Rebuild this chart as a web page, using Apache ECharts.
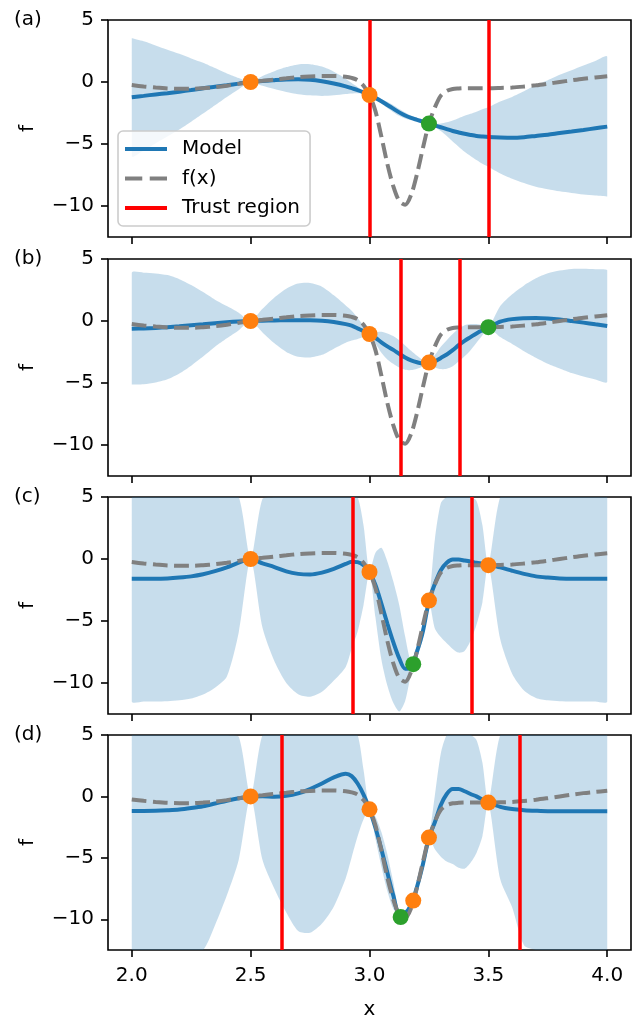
<!DOCTYPE html>
<html>
<head>
<meta charset="utf-8">
<script src="https://cdn.jsdelivr.net/npm/echarts@6.0.0/dist/echarts.min.js"></script>
<style>
  html, body { margin: 0; padding: 0; background: #ffffff; }
  #chart { width: 637px; height: 1021px; }
</style>
</head>
<body>
<div id="chart"></div>
<script>
// Sample locations shared by every curve
const XS = [2.0, 2.05, 2.1, 2.15, 2.2, 2.25, 2.3, 2.35, 2.4, 2.45, 2.5, 2.55, 2.6, 2.65, 2.7, 2.75, 2.8, 2.85, 2.9,
            2.925, 2.95, 2.975, 3.0, 3.025, 3.05, 3.075, 3.1, 3.125, 3.15, 3.175, 3.2, 3.225, 3.25, 3.275, 3.3, 3.325,
            3.35, 3.375, 3.4, 3.425, 3.45, 3.475, 3.5,
            3.55, 3.6, 3.65, 3.7, 3.75, 3.8, 3.85, 3.9, 3.95, 4.0];

// Objective function f(x)
const F_TRUE = [-0.25, -0.36, -0.45, -0.52, -0.55, -0.55, -0.50, -0.42, -0.30, -0.15, 0.00, 0.10, 0.20, 0.30, 0.40, 0.45, 0.48, 0.48, 0.42,
                0.33, 0.15, -0.30, -1.05, -2.35, -4.40, -6.60, -8.40, -9.60, -9.90, -9.10, -7.40, -5.30, -3.35, -2.05, -1.10, -0.72,
                -0.56, -0.52, -0.50, -0.50, -0.50, -0.50, -0.50,
                -0.48, -0.45, -0.37, -0.27, -0.14, 0.00, 0.14, 0.27, 0.37, 0.46];

// Model mean per step
const MEAN_A = [-1.23, -1.12, -1.00, -0.90, -0.78, -0.65, -0.50, -0.38, -0.26, -0.13, 0.00, 0.09, 0.15, 0.20, 0.22, 0.18, 0.06, -0.12, -0.35,
                -0.50, -0.65, -0.83, -1.05, -1.28, -1.55, -1.85, -2.15, -2.45, -2.70, -2.90, -3.05, -3.20, -3.35, -3.50, -3.65, -3.80,
                -3.95, -4.07, -4.18, -4.27, -4.35, -4.40, -4.44,
                -4.48, -4.50, -4.45, -4.35, -4.25, -4.12, -4.00, -3.87, -3.73, -3.60];
const MEAN_B = [-0.62, -0.60, -0.56, -0.50, -0.43, -0.35, -0.27, -0.18, -0.10, -0.04, 0.00, 0.03, 0.05, 0.06, 0.07, 0.06, 0.02, -0.08, -0.25,
                -0.38, -0.60, -0.82, -1.05, -1.35, -1.72, -2.05, -2.33, -2.65, -2.95, -3.18, -3.33, -3.42, -3.38, -3.25, -2.98, -2.70,
                -2.35, -1.95, -1.60, -1.30, -1.00, -0.75, -0.54,
                -0.05, 0.15, 0.22, 0.24, 0.20, 0.12, 0.00, -0.13, -0.27, -0.40];
const MEAN_C = [-1.60, -1.60, -1.60, -1.57, -1.50, -1.40, -1.23, -0.98, -0.67, -0.30, 0.00, -0.35, -0.65, -1.00, -1.20, -1.25, -1.10, -0.80, -0.40,
                -0.22, -0.25, -0.50, -1.05, -2.10, -3.60, -5.20, -6.70, -8.00, -8.85, -8.75, -7.45, -5.80, -3.40, -2.00, -0.90, -0.30,
                -0.05, -0.05, -0.12, -0.20, -0.30, -0.38, -0.47,
                -0.68, -0.95, -1.20, -1.40, -1.50, -1.57, -1.60, -1.60, -1.60, -1.60];
const MEAN_D = [-1.18, -1.18, -1.17, -1.13, -1.07, -0.95, -0.80, -0.58, -0.35, -0.15, 0.00, 0.02, -0.02, 0.05, 0.25, 0.60, 1.05, 1.55, 1.85,
                1.65, 1.05, 0.15, -1.05, -2.55, -4.30, -6.20, -8.05, -9.50, -9.45, -8.80, -7.35, -5.50, -3.35, -2.10, -0.70, 0.20,
                0.60, 0.60, 0.42, 0.20, 0.00, -0.25, -0.48,
                -0.85, -1.03, -1.12, -1.17, -1.20, -1.20, -1.20, -1.20, -1.20, -1.20];

// Half-width of the shaded confidence band per step
const SPREAD_A = [4.75, 4.40, 3.95, 3.50, 3.05, 2.55, 2.05, 1.50, 0.95, 0.45, 0.00, 0.40, 0.72, 1.00, 1.20, 1.25, 1.18, 0.95, 0.62,
                  0.42, 0.25, 0.10, 0.00, 0.10, 0.18, 0.25, 0.28, 0.28, 0.25, 0.18, 0.12, 0.05, 0.00, 0.12, 0.30, 0.55,
                  0.85, 1.15, 1.45, 1.70, 1.95, 2.20, 2.40,
                  2.90, 3.30, 3.70, 4.10, 4.40, 4.70, 4.95, 5.20, 5.42, 5.63];
const SPREAD_B = [4.50, 4.50, 4.40, 4.20, 3.80, 3.25, 2.60, 1.90, 1.30, 0.70, 0.00, 0.95, 1.85, 2.55, 2.95, 3.00, 2.75, 2.15, 1.50,
                  1.20, 0.85, 0.45, 0.00, 0.45, 0.85, 1.05, 1.12, 1.10, 0.98, 0.78, 0.52, 0.25, 0.00, 0.50, 0.90, 1.15,
                  1.30, 1.32, 1.25, 1.05, 0.75, 0.40, 0.00,
                  1.25, 2.00, 2.65, 3.20, 3.65, 3.95, 4.20, 4.35, 4.45, 4.50];
const SPREAD_C = [9.90, 9.90, 9.90, 9.90, 9.90, 9.85, 9.70, 9.40, 8.80, 5.60, 0.00, 5.20, 7.60, 9.00, 9.70, 9.85, 9.60, 9.00, 8.30,
                  7.00, 5.60, 3.20, 0.00, 2.60, 4.50, 5.00, 4.90, 4.30, 2.60, 0.50, 0.50, 0.60, 0.00, 3.60, 5.40, 6.50,
                  7.20, 7.50, 7.30, 6.40, 5.00, 3.10, 0.00,
                  5.80, 8.30, 9.40, 9.80, 9.90, 9.90, 9.90, 9.90, 9.90, 9.90];
const SPREAD_D = [12.5, 12.5, 12.5, 12.4, 12.3, 12.1, 11.7, 9.90, 7.70, 5.00, 0.00, 5.20, 7.50, 9.50, 11.2, 11.7, 11.4, 10.5, 8.50,
                  6.60, 4.30, 2.00, 0.00, 0.90, 1.40, 1.50, 1.10, 0.20, 0.15, 0.10, 0.30, 0.30, 0.00, 2.20, 4.20, 5.50,
                  6.10, 6.40, 6.30, 5.60, 4.60, 3.00, 0.00,
                  5.90, 8.00, 11.0, 12.3, 12.5, 12.5, 12.5, 12.5, 12.5, 12.5];

// Trust region bounds per step
const TR_A = [3.0, 3.5];
const TR_B = [3.125, 3.375];
const TR_C = [2.934, 3.434];
const TR_D = [2.631, 3.631];

// Evaluated points and the newly proposed point per step
const OBS_X_A = [2.5, 3.0];
const OBS_Y_A = [0.0, -1.05];
const NEXT_A = [3.25, -3.35];
const OBS_X_B = [2.5, 3.0, 3.25];
const OBS_Y_B = [0.0, -1.05, -3.35];
const NEXT_B = [3.5, -0.5];
const OBS_X_C = [2.5, 3.0, 3.25, 3.5];
const OBS_Y_C = [0.0, -1.05, -3.35, -0.5];
const NEXT_C = [3.184, -8.48];
const OBS_X_D = [2.5, 3.0, 3.184, 3.25, 3.5];
const OBS_Y_D = [0.0, -1.05, -8.48, -3.35, -0.5];
const NEXT_D = [3.131, -9.82];

// Axis ticks
const X_TICKS = [2.0, 2.5, 3.0, 3.5, 4.0];
const Y_TICKS = [-10, -5, 0, 5];
const PANEL_LABELS = ['(a)', '(b)', '(c)', '(d)'];

const X_MIN = 1.9, X_MAX = 4.1, Y_MIN = -12.5, Y_MAX = 5;

const panels = [
  { mean: MEAN_A, spread: SPREAD_A, tr: TR_A, ox: OBS_X_A, oy: OBS_Y_A, next: NEXT_A },
  { mean: MEAN_B, spread: SPREAD_B, tr: TR_B, ox: OBS_X_B, oy: OBS_Y_B, next: NEXT_B },
  { mean: MEAN_C, spread: SPREAD_C, tr: TR_C, ox: OBS_X_C, oy: OBS_Y_C, next: NEXT_C },
  { mean: MEAN_D, spread: SPREAD_D, tr: TR_D, ox: OBS_X_D, oy: OBS_Y_D, next: NEXT_D }
];

const FONT = 'DejaVu Sans';
const TOPS = [20, 259, 497, 735];
const PLOT_H = 217;
const BLUE = '#1f77b4', ORANGE = '#ff7f0e', GREEN = '#2ca02c', GREY = '#808080', RED = '#ff0000';

const minusFmt = v => (v < 0 ? '\u2212' + Math.abs(v) : String(v));

const grids = [], xAxes = [], yAxes = [], series = [], graphics = [];

panels.forEach((p, i) => {
  const last = i === panels.length - 1;
  grids.push({
    left: 108, right: 6, top: TOPS[i], height: PLOT_H,
    show: true, borderColor: '#000', borderWidth: 1.6, backgroundColor: 'transparent'
  });
  xAxes.push({
    type: 'value', gridIndex: i, min: X_MIN, max: X_MAX,
    axisLine: { show: false, onZero: false }, splitLine: { show: false },
    axisTick: { show: true, inside: false, length: 7, lineStyle: { color: '#000', width: 1.6 }, customValues: X_TICKS },
    axisLabel: {
      show: last, customValues: X_TICKS, formatter: v => v.toFixed(1),
      fontFamily: FONT, fontSize: 20, color: '#000', margin: 16
    },
    name: last ? 'x' : '', nameLocation: 'middle', nameGap: 50,
    nameTextStyle: { fontFamily: FONT, fontSize: 20, color: '#000' }
  });
  yAxes.push({
    type: 'value', gridIndex: i, min: Y_MIN, max: Y_MAX,
    axisLine: { show: false, onZero: false }, splitLine: { show: false },
    axisTick: { show: true, inside: false, length: 7, lineStyle: { color: '#000', width: 1.6 }, customValues: Y_TICKS },
    axisLabel: { customValues: Y_TICKS, formatter: minusFmt, fontFamily: FONT, fontSize: 20, color: '#000', margin: 14 },
    name: 'f', nameLocation: 'middle', nameGap: 70, nameRotate: 90,
    nameTextStyle: { fontFamily: FONT, fontSize: 20, color: '#000' }
  });

  // Shaded confidence band: mean +/- spread, clamped to the visible range
  series.push({
    type: 'custom', name: 'band', xAxisIndex: i, yAxisIndex: i, z: 1, silent: true,
    data: [[XS[0], p.mean[0]]],
    renderItem: (params, api) => {
      const upper = [], lower = [];
      for (let k = 0; k < XS.length; k++) {
        const hi = Math.min(Y_MAX, Math.max(Y_MIN, p.mean[k] + p.spread[k]));
        const lo = Math.max(Y_MIN, Math.min(Y_MAX, p.mean[k] - p.spread[k]));
        upper.push(api.coord([XS[k], hi]));
        lower.push(api.coord([XS[k], lo]));
      }
      const pts = upper.concat(lower.reverse());
      // keep the smoothed outline inside the band's own bounding box
      const xsPx = pts.map(q => q[0]), ysPx = pts.map(q => q[1]);
      const box = [[Math.min(...xsPx), Math.min(...ysPx)], [Math.max(...xsPx), Math.max(...ysPx)]];
      return {
        type: 'polygon',
        shape: { points: pts, smooth: 0.25, smoothConstraint: box },
        style: { fill: 'rgba(31,119,180,0.25)', stroke: null }
      };
    }
  });

  // Model mean
  series.push({
    type: 'line', name: 'Model', xAxisIndex: i, yAxisIndex: i, z: 2,
    data: XS.map((x, k) => [x, p.mean[k]]),
    symbol: 'none', showSymbol: false, smooth: 0.3,
    color: BLUE, lineStyle: { color: BLUE, width: 4 }
  });

  // Objective f(x)
  series.push({
    type: 'line', name: 'f(x)', xAxisIndex: i, yAxisIndex: i, z: 3,
    data: XS.map((x, k) => [x, F_TRUE[k]]),
    symbol: 'none', showSymbol: false, smooth: 0.3,
    color: GREY, lineStyle: { color: GREY, width: 4, type: [14.8, 6.4] }
  });

  // Trust region edges
  series.push({
    type: 'line', name: 'Trust region', xAxisIndex: i, yAxisIndex: i, z: 4,
    data: [], symbol: 'none', color: RED, lineStyle: { color: RED, width: 3.5 },
    markLine: {
      silent: true, symbol: ['none', 'none'], label: { show: false },
      lineStyle: { color: RED, width: 3.5, type: 'solid' },
      data: p.tr.map(v => ({ xAxis: v }))
    }
  });

  // Evaluated points
  series.push({
    type: 'scatter', name: 'evaluated', xAxisIndex: i, yAxisIndex: i, z: 5,
    data: p.ox.map((x, k) => [x, p.oy[k]]),
    symbol: 'circle', symbolSize: 16, itemStyle: { color: ORANGE, opacity: 1 }
  });

  // Newly proposed point
  series.push({
    type: 'scatter', name: 'proposed', xAxisIndex: i, yAxisIndex: i, z: 6,
    data: [p.next],
    symbol: 'circle', symbolSize: 16, itemStyle: { color: GREEN, opacity: 1 }
  });

  graphics.push({
    type: 'text', left: 14, top: TOPS[i] - 10, z: 20,
    style: { text: PANEL_LABELS[i], font: '20px "' + FONT + '"', fill: '#000' }
  });
});

const chart = echarts.init(document.getElementById('chart'), null, { renderer: 'canvas' });
chart.setOption({
  animation: false,
  backgroundColor: '#ffffff',
  textStyle: { fontFamily: FONT },
  grid: grids,
  xAxis: xAxes,
  yAxis: yAxes,
  legend: {
    data: [
      { name: 'Model', icon: 'path://M0,0H42V4H0Z', itemStyle: { color: BLUE, borderWidth: 0 } },
      { name: 'f(x)', icon: 'path://M0,0H14.8V4H0Z M21.2,0H36V4H21.2Z', itemStyle: { color: GREY, borderWidth: 0 } },
      { name: 'Trust region', icon: 'path://M0,0H42V3.5H0Z', itemStyle: { color: RED, borderWidth: 0 } }
    ],
    orient: 'vertical', left: 118, top: 131,
    padding: [5, 10, 5, 7],
    itemGap: 3.5, itemWidth: 42, itemHeight: 4, symbolKeepAspect: false,
    textStyle: { fontFamily: FONT, fontSize: 20, color: '#000', lineHeight: 26, padding: [0, 0, 0, 10] },
    backgroundColor: 'rgba(255,255,255,0.8)',
    borderColor: '#cccccc', borderWidth: 1.6, borderRadius: 5,
    selectedMode: false, z: 10
  },
  graphic: graphics,
  series: series
});
</script>
</body>
</html>
